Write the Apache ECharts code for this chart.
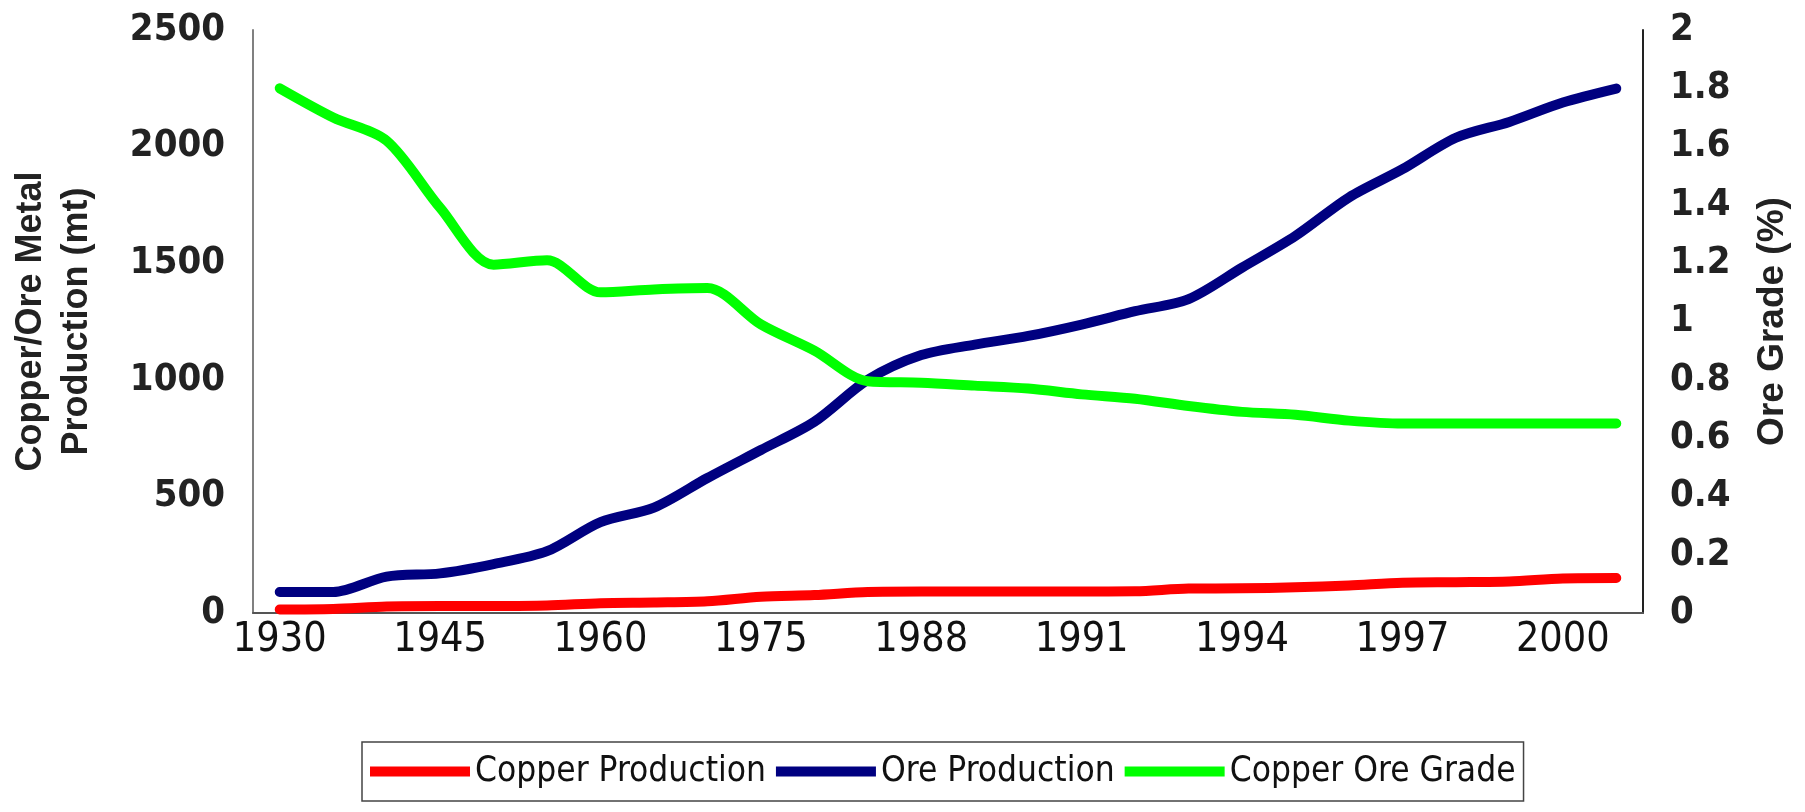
<!DOCTYPE html>
<html>
<head>
<meta charset="utf-8">
<script src="https://cdn.jsdelivr.net/npm/echarts@6/dist/echarts.min.js"></script>
<style>
html,body{margin:0;padding:0;background:#fff;}
#chart{width:1805px;height:812px;}
</style>
</head>
<body>
<div id="chart"></div>
<script>
const years = ['1930','1935','1940','1945','1950','1955','1960','1965','1970','1975','1980','1985','1988','1989','1990','1991','1992','1993','1994','1995','1996','1997','1998','1999','2000','2001'];
const copperProduction = [15,17,28,30,30,32,42,45,50,70,77,90,92,92,92,92,93,105,106,110,118,130,132,135,148,150];
const oreProduction = [90,90,156,170,210,265,390,452,579,699,820,1000,1106,1151,1188,1237,1294,1346,1481,1617,1782,1903,2038,2106,2189,2249];
const copperOreGrade = [1.80,1.70,1.62,1.39,1.195,1.21,1.10,1.11,1.115,0.99,0.90,0.795,0.79,0.78,0.77,0.75,0.735,0.71,0.69,0.68,0.66,0.65,0.65,0.65,0.65,0.65];

const narrow = "'Liberation Sans Narrow', 'Arial Narrow', 'DejaVu Sans Condensed', sans-serif";
const wide = "'Liberation Sans', Arial, sans-serif";

const chart = echarts.init(document.getElementById('chart'), null, {renderer:'canvas'});
chart.setOption({
  backgroundColor:'#ffffff',
  animation:false,
  grid:{left:247,right:162,top:30,bottom:199,containLabel:false},
  legend:{
    left:362, top:742,
    padding:[12,8],
    itemGap:10,
    itemWidth:100, itemHeight:10,
    icon:'rect',
    borderColor:'#444', borderWidth:1.5,
    textStyle:{fontFamily:narrow,fontSize:35,color:'#111'},
    data:['Copper Production','Ore Production','Copper Ore Grade']
  },
  xAxis:{
    type:'category',
    data:years,
    boundaryGap:true,
    axisLine:{lineStyle:{color:'#555',width:2}},
    axisTick:{show:false},
    axisLabel:{interval:2,margin:7,fontFamily:narrow,fontSize:41,color:'#111'},
    splitLine:{show:false}
  },
  yAxis:[
    {
      type:'value',min:0,max:2500,interval:500,
      name:'Copper/Ore Metal\nProduction (mt)',
      nameLocation:'middle',nameRotate:90,nameGap:153,
      nameTextStyle:{fontFamily:wide,fontWeight:'bold',fontSize:36,lineHeight:46,color:'#222'},
      axisLine:{show:true,lineStyle:{color:'#808080',width:2}},
      axisTick:{show:false},
      axisLabel:{margin:28,fontFamily:narrow,fontWeight:'bold',fontSize:38,color:'#222',formatter:function(v){return String(v);}},
      splitLine:{show:false}
    },
    {
      type:'value',min:0,max:2,interval:0.2,position:'right',
      name:'Ore Grade (%)',
      nameLocation:'middle',nameRotate:90,nameGap:111,
      nameTextStyle:{fontFamily:wide,fontWeight:'bold',fontSize:37,color:'#222'},
      axisLine:{show:true,lineStyle:{color:'#222',width:2}},
      axisTick:{show:false},
      axisLabel:{margin:27,fontFamily:narrow,fontWeight:'bold',fontSize:38,color:'#222',formatter:function(v){return String(Math.round(v*10)/10);}},
      splitLine:{show:false}
    }
  ],
  series:[
    {name:'Copper Production',type:'line',yAxisIndex:0,data:copperProduction,smooth:0.3,showSymbol:false,symbol:'none',
     itemStyle:{color:'#ff0000'},lineStyle:{color:'#ff0000',width:10,cap:'round',join:'round'}},
    {name:'Ore Production',type:'line',yAxisIndex:0,data:oreProduction,smooth:0.3,showSymbol:false,symbol:'none',
     itemStyle:{color:'#000080'},lineStyle:{color:'#000080',width:10,cap:'round',join:'round'}},
    {name:'Copper Ore Grade',type:'line',yAxisIndex:1,data:copperOreGrade,smooth:0.3,showSymbol:false,symbol:'none',
     itemStyle:{color:'#00ff00'},lineStyle:{color:'#00ff00',width:10,cap:'round',join:'round'}}
  ]
});
</script>
</body>
</html>
